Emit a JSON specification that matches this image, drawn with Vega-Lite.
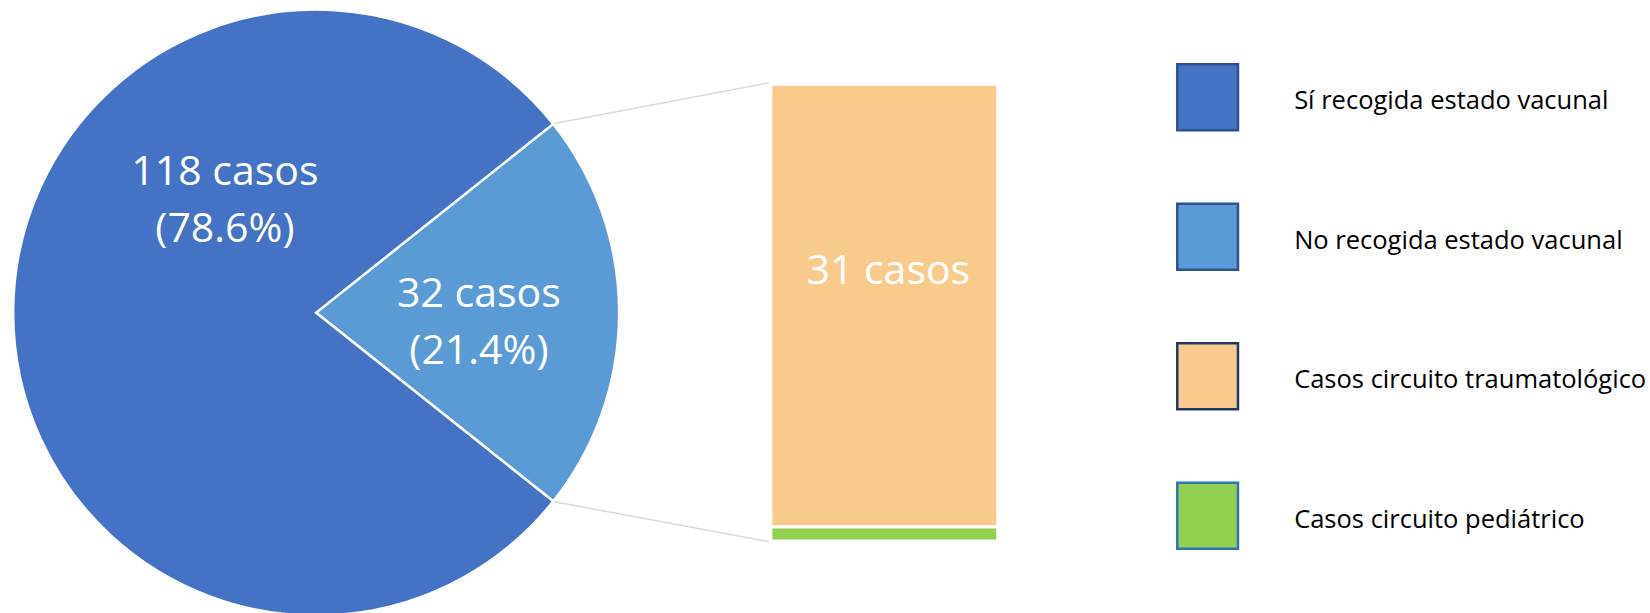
{
  "$schema": "https://vega.github.io/schema/vega-lite/v6.json",
  "width": 1650,
  "height": 613,
  "padding": 0,
  "autosize": {"type": "none"},
  "background": "white",
  "config": {"view": {"stroke": null}, "font": "Open Sans"},
  "datasets": {
    "pie": [
      {"categoria": "No recogida estado vacunal", "casos": 32, "porcentaje": 21.4, "orden": 1, "etiqueta": "32 casos\n(21.4%)"},
      {"categoria": "Sí recogida estado vacunal", "casos": 118, "porcentaje": 78.6, "orden": 2, "etiqueta": "118 casos\n(78.6%)"}
    ],
    "barra": [
      {"categoria": "Casos circuito pediátrico", "casos": 1, "orden": 1, "etiqueta": ""},
      {"categoria": "Casos circuito traumatológico", "casos": 31, "orden": 2, "etiqueta": "31 casos"}
    ],
    "leyenda": [
      {"categoria": "Sí recogida estado vacunal"},
      {"categoria": "No recogida estado vacunal"},
      {"categoria": "Casos circuito traumatológico"},
      {"categoria": "Casos circuito pediátrico"}
    ]
  },
  "resolve": {"scale": {"y": "independent"}},
  "layer": [
    {
      "data": {"values": [{}]},
      "mark": {"type": "rule", "color": "#D9D9D9", "strokeWidth": 1.5},
      "encoding": {
        "x": {"datum": 38.55, "type": "quantitative", "scale": {"domain": [0, 115.64], "nice": false, "zero": false}, "axis": null},
        "y": {"datum": 29.22, "type": "quantitative", "scale": {"domain": [-5.05, 37.91], "nice": false, "zero": false}, "axis": null},
        "x2": {"datum": 53.85},
        "y2": {"datum": 32.1}
      }
    },
    {
      "data": {"values": [{}]},
      "mark": {"type": "rule", "color": "#D9D9D9", "strokeWidth": 1.5},
      "encoding": {
        "x": {"datum": 38.55, "type": "quantitative", "scale": {"domain": [0, 115.64], "nice": false, "zero": false}, "axis": null},
        "y": {"datum": 2.78, "type": "quantitative", "scale": {"domain": [-5.05, 37.91], "nice": false, "zero": false}, "axis": null},
        "x2": {"datum": 53.85},
        "y2": {"datum": -0.05}
      }
    },
    {
      "data": {"name": "pie"},
      "mark": {"type": "arc", "outerRadius": 303, "stroke": "#FFFFFF", "strokeWidth": 2.5},
      "encoding": {
        "theta": {"field": "porcentaje", "type": "quantitative", "stack": true, "scale": {"range": [0.8983, 7.1815]}},
        "order": {"field": "orden", "type": "quantitative"},
        "x": {"datum": 21.94, "type": "quantitative", "scale": {"domain": [0, 115.64], "nice": false, "zero": false}, "axis": null},
        "y": {"datum": 16, "type": "quantitative", "scale": {"domain": [-5.05, 37.91], "nice": false, "zero": false}, "axis": null},
        "color": {
          "field": "categoria",
          "type": "nominal",
          "scale": {
            "domain": ["Sí recogida estado vacunal", "No recogida estado vacunal", "Casos circuito traumatológico", "Casos circuito pediátrico"],
            "range": ["#4472C4", "#5B9BD5", "#F8CB8D", "#92D050"]
          },
          "legend": null
        }
      }
    },
    {
      "data": {"name": "pie"},
      "mark": {"type": "text", "radius": 165, "thetaOffset": 0.055, "dx": -2, "dy": -26.5, "fontSize": 41, "lineHeight": 57, "lineBreak": "\n", "color": "#FFFFFF", "align": "center", "baseline": "middle"},
      "encoding": {
        "theta": {"field": "porcentaje", "type": "quantitative", "stack": true, "scale": {"range": [0.8983, 7.1815]}},
        "order": {"field": "orden", "type": "quantitative"},
        "x": {"datum": 21.94, "type": "quantitative", "scale": {"domain": [0, 115.64], "nice": false, "zero": false}, "axis": null},
        "y": {"datum": 16, "type": "quantitative", "scale": {"domain": [-5.05, 37.91], "nice": false, "zero": false}, "axis": null},
        "text": {"condition": {"test": "datum.casos < 100", "field": "etiqueta", "type": "nominal"}, "value": ""}
      }
    },
    {
      "data": {"name": "pie"},
      "mark": {"type": "text", "radius": 141, "thetaOffset": 0.904, "dx": -4, "dy": -28.5, "fontSize": 41, "lineHeight": 57, "lineBreak": "\n", "color": "#FFFFFF", "align": "center", "baseline": "middle"},
      "encoding": {
        "theta": {"field": "porcentaje", "type": "quantitative", "stack": true, "scale": {"range": [0.8983, 7.1815]}},
        "order": {"field": "orden", "type": "quantitative"},
        "x": {"datum": 21.94, "type": "quantitative", "scale": {"domain": [0, 115.64], "nice": false, "zero": false}, "axis": null},
        "y": {"datum": 16, "type": "quantitative", "scale": {"domain": [-5.05, 37.91], "nice": false, "zero": false}, "axis": null},
        "text": {"condition": {"test": "datum.casos > 100", "field": "etiqueta", "type": "nominal"}, "value": ""}
      }
    },
    {
      "data": {"name": "barra"},
      "mark": {"type": "bar", "orient": "vertical", "stroke": "#FFFFFF", "strokeWidth": 3},
      "encoding": {
        "x": {"datum": 54.0, "type": "quantitative", "scale": {"domain": [0, 115.64], "nice": false, "zero": false}, "axis": null},
        "x2": {"datum": 70.0},
        "y": {"field": "casos", "type": "quantitative", "stack": true, "scale": {"domain": [-5.05, 37.91], "nice": false, "zero": false}, "axis": null},
        "order": {"field": "orden", "type": "quantitative"},
        "color": {"field": "categoria", "type": "nominal", "legend": null}
      }
    },
    {
      "data": {"name": "barra"},
      "mark": {"type": "text", "fontSize": 41, "color": "#FFFFFF", "align": "center", "baseline": "middle", "dx": 4, "dy": -34},
      "encoding": {
        "x": {"datum": 62.0, "type": "quantitative", "scale": {"domain": [0, 115.64], "nice": false, "zero": false}, "axis": null},
        "y": {"field": "casos", "type": "quantitative", "stack": true, "bandPosition": 0.5, "scale": {"domain": [-5.05, 37.91], "nice": false, "zero": false}, "axis": null},
        "order": {"field": "orden", "type": "quantitative"},
        "text": {"field": "etiqueta", "type": "nominal"}
      }
    },
    {
      "data": {"name": "leyenda"},
      "mark": {"type": "bar", "strokeWidth": 2.5},
      "encoding": {
        "x": {"datum": 82.66, "type": "quantitative", "scale": {"domain": [0, 115.64], "nice": false, "zero": false}, "axis": null},
        "x2": {"datum": 86.94},
        "y": {
          "field": "categoria",
          "type": "nominal",
          "sort": null,
          "scale": {"type": "band", "domain": ["Sí recogida estado vacunal", "No recogida estado vacunal", "Casos circuito traumatológico", "Casos circuito pediátrico"], "paddingInner": 0.527, "paddingOuter": 0.4613},
          "axis": null
        },
        "color": {"field": "categoria", "type": "nominal", "legend": null},
        "stroke": {
          "field": "categoria",
          "type": "nominal",
          "scale": {
            "domain": ["Sí recogida estado vacunal", "No recogida estado vacunal", "Casos circuito traumatológico", "Casos circuito pediátrico"],
            "range": ["#2F528F", "#2F528F", "#1F3864", "#2E75B6"]
          },
          "legend": null
        }
      }
    },
    {
      "data": {"name": "leyenda"},
      "mark": {"type": "text", "fontSize": 25.5, "color": "#000000", "align": "left", "baseline": "middle", "dy": 4},
      "encoding": {
        "x": {"datum": 90.9, "type": "quantitative", "scale": {"domain": [0, 115.64], "nice": false, "zero": false}, "axis": null},
        "y": {
          "field": "categoria",
          "type": "nominal",
          "sort": null,
          "scale": {"type": "band", "domain": ["Sí recogida estado vacunal", "No recogida estado vacunal", "Casos circuito traumatológico", "Casos circuito pediátrico"], "paddingInner": 0.527, "paddingOuter": 0.4613},
          "axis": null
        },
        "text": {"field": "categoria", "type": "nominal"}
      }
    }
  ]
}
